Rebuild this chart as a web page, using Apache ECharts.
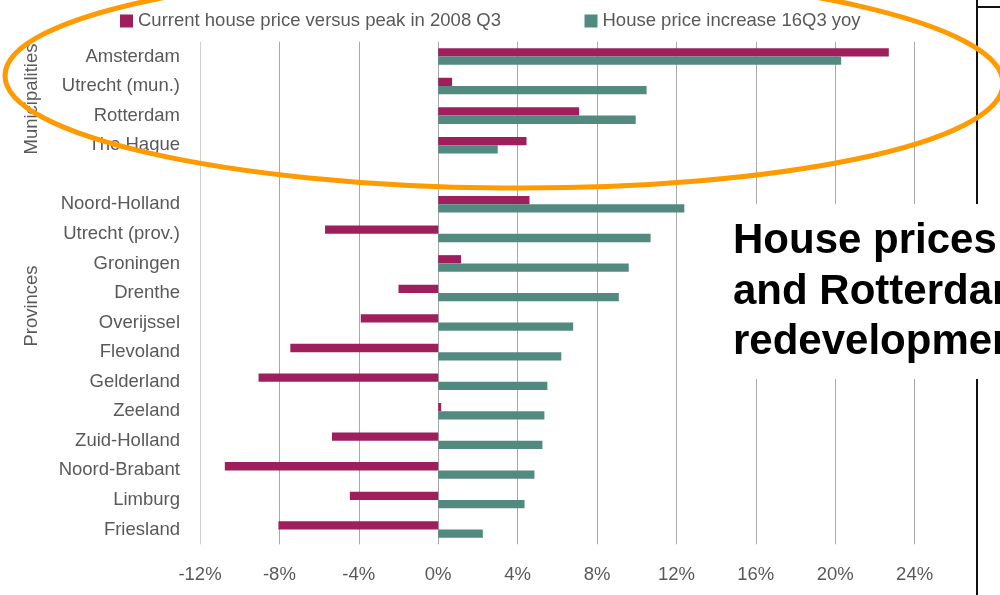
<!DOCTYPE html>
<html>
<head>
<meta charset="utf-8">
<script src="https://cdn.jsdelivr.net/npm/echarts@6/dist/echarts.min.js"></script>
<style>
html,body{margin:0;padding:0;background:#fff;}
#chart{width:1000px;height:595px;}
</style>
</head>
<body>
<div id="chart"></div>
<script>
var categories = ['Amsterdam','Utrecht (mun.)','Rotterdam','The Hague','',
  'Noord-Holland','Utrecht (prov.)','Groningen','Drenthe','Overijssel','Flevoland',
  'Gelderland','Zeeland','Zuid-Holland','Noord-Brabant','Limburg','Friesland'];
var seriesNames = ['Current house price versus peak in 2008 Q3','House price increase 16Q3 yoy'];
var vsPeak = [22.7, 0.7, 7.1, 4.45, null,
  4.6, -5.7, 1.15, -2.0, -3.9, -7.45,
  -9.05, 0.15, -5.35, -10.75, -4.45, -8.05];
var yoy = [20.3, 10.5, 9.95, 3.0, null,
  12.4, 10.7, 9.6, 9.1, 6.8, 6.2,
  5.5, 5.35, 5.25, 4.85, 4.35, 2.25];
var xTicks = {min: -12, max: 28, step: 4};
var groupLabels = ['Municipalities','Provinces'];
var titleLines = ['House prices','and Rotterdam','redevelopment'];

var gray = '#595959';
var font = 'Liberation Sans, Arial, sans-serif';
var chart = echarts.init(document.getElementById('chart'));

var splitColors = [];
for (var v = xTicks.min; v <= xTicks.max; v += xTicks.step) {
  splitColors.push(v === xTicks.min ? '#cfcfcf' : '#a8a8a8');
}

var option = {
  animation: false,
  backgroundColor: '#fff',
  textStyle: {fontFamily: font},
  legend: {
    left: 115, top: 6.5,
    itemWidth: 13, itemHeight: 13, itemGap: 83.5,
    icon: 'rect',
    textStyle: {fontSize: 18.5, color: gray, fontFamily: font},
    data: seriesNames
  },
  grid: {left: 200, right: 6, top: 41.7, bottom: 50.7, containLabel: false,
    outerBoundsMode: 'none'},
  xAxis: {
    type: 'value', min: xTicks.min, max: xTicks.max, interval: xTicks.step,
    axisLine: {show: false}, axisTick: {show: false},
    axisLabel: {color: gray, fontSize: 18.5, fontFamily: font, margin: 21,
      formatter: function (v) { return v === xTicks.max ? '' : v + '%'; }},
    splitLine: {show: true, lineStyle: {color: splitColors, width: 1}}
  },
  yAxis: {
    type: 'category', data: categories, inverse: true,
    axisLine: {show: false, onZero: false},
    axisTick: {show: false},
    axisLabel: {color: gray, fontSize: 18.5, fontFamily: font, margin: 20}
  },
  series: [
    {name: seriesNames[0], type: 'bar', data: vsPeak, barWidth: 8.3, barGap: '0%',
      itemStyle: {color: '#9E1F5C'}},
    {name: seriesNames[1], type: 'bar', data: yoy, barWidth: 8.3, barGap: '0%',
      itemStyle: {color: '#528A80'}}
  ],
  graphic: [
    {type: 'text', x: 32, y: 99, rotation: Math.PI / 2, z: 10,
      style: {text: groupLabels[0], fill: gray, fontSize: 18.5, fontFamily: font,
        textAlign: 'center', textVerticalAlign: 'middle'}},
    {type: 'text', x: 32, y: 306, rotation: Math.PI / 2, z: 10,
      style: {text: groupLabels[1], fill: gray, fontSize: 18.5, fontFamily: font,
        textAlign: 'center', textVerticalAlign: 'middle'}},
    {type: 'rect', z: 50, shape: {x: 978, y: 0, width: 22, height: 595},
      style: {fill: '#fff'}},
    {type: 'line', z: 51, shape: {x1: 977, y1: 0, x2: 977, y2: 595},
      style: {stroke: '#111', lineWidth: 2}},
    {type: 'line', z: 51, shape: {x1: 977, y1: 7, x2: 1000, y2: 7},
      style: {stroke: '#111', lineWidth: 2}},
    {type: 'rect', z: 60, shape: {x: 720, y: 204, width: 280, height: 175},
      style: {fill: '#fff'}},
    {type: 'text', z: 61, x: 733, y: 241.5,
      style: {text: titleLines[0], fill: '#000', fontSize: 42, fontWeight: 'bold',
        fontFamily: font, textVerticalAlign: 'middle'}},
    {type: 'text', z: 61, x: 733, y: 292.5,
      style: {text: titleLines[1], fill: '#000', fontSize: 42, fontWeight: 'bold',
        fontFamily: font, textVerticalAlign: 'middle'}},
    {type: 'text', z: 61, x: 733, y: 342.5,
      style: {text: titleLines[2], fill: '#000', fontSize: 42, fontWeight: 'bold',
        fontFamily: font, textVerticalAlign: 'middle'}},
    {type: 'ellipse', z: 100, x: 504, y: 79.5, rotation: -0.008,
      shape: {cx: 0, cy: 0, rx: 499, ry: 108.5},
      style: {fill: 'none', stroke: '#FF9A00', lineWidth: 5}}
  ]
};
chart.setOption(option);
</script>
</body>
</html>
